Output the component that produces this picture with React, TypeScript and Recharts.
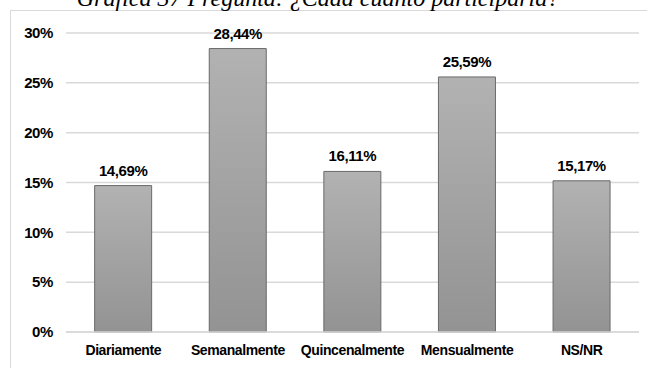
import { BarChart, Bar, XAxis, YAxis, CartesianGrid, LabelList } from 'recharts';

const categories = ['Diariamente', 'Semanalmente', 'Quincenalmente', 'Mensualmente', 'NS/NR'];
const percentages = [14.69, 28.44, 16.11, 25.59, 15.17];
const yTicks = [0, 5, 10, 15, 20, 25, 30];

const data = categories.map((name, i) => ({ name, value: percentages[i] }));

const font = '"Liberation Sans", Arial, sans-serif';

export default function App() {
  return (
    <div style={{ position: 'absolute', left: 0, top: 0, width: 647, height: 368, background: '#fff', overflow: 'hidden' }}>
      <div
        style={{
          position: 'absolute',
          left: 10,
          top: 10,
          width: 700,
          height: 400,
          border: '1px solid #d9d9d9',
        }}
      />
      <svg width={647} height={30} style={{ position: 'absolute', left: 0, top: 0 }}>
        <text
          x={318}
          y={6}
          textAnchor="middle"
          fontFamily='"Liberation Serif", "Times New Roman", serif'
          fontStyle="italic"
          fontSize={24}
          fill="#000"
        >
          Gráfica 37 Pregunta: ¿Cada cuánto participaría?
        </text>
      </svg>
      <div style={{ position: 'absolute', left: 0, top: 0 }}>
        <BarChart
          width={647}
          height={368}
          data={data}
          margin={{ top: 33, right: 8, bottom: 6, left: 0 }}
          barCategoryGap="25%"
        >
          <defs>
            <linearGradient id="barFill" x1="0" y1="0" x2="0" y2="1">
              <stop offset="0%" stopColor="#b2b2b2" />
              <stop offset="100%" stopColor="#939393" />
            </linearGradient>
          </defs>
          <CartesianGrid vertical={false} stroke="#d9d9d9" strokeWidth={1.5} />
          <XAxis
            dataKey="name"
            height={30}
            axisLine={{ stroke: '#d9d9d9', strokeWidth: 1.5 }}
            tickLine={false}
            tickSize={0}
            tickMargin={13}
            interval={0}
            tick={{ fontFamily: font, fontSize: 14, fontWeight: 'bold', fill: '#000', letterSpacing: -0.4 }}
          />
          <YAxis
            width={66}
            domain={[0, 30]}
            ticks={yTicks}
            tickFormatter={(v: number) => `${v}%`}
            axisLine={false}
            tickLine={false}
            tickSize={0}
            tickMargin={13}
            tick={{ fontFamily: font, fontSize: 15, fontWeight: 'bold', fill: '#000', letterSpacing: -0.4 }}
          />
          <Bar dataKey="value" fill="url(#barFill)" stroke="#6a6a6a" strokeWidth={1} isAnimationActive={false}>
            <LabelList
              dataKey="value"
              position="top"
              offset={10}
              formatter={(v: number) => `${v.toFixed(2).replace('.', ',')}%`}
              style={{ fontFamily: font, fontSize: 15, fontWeight: 'bold', fill: '#000', letterSpacing: -0.4 }}
            />
          </Bar>
        </BarChart>
      </div>
    </div>
  );
}
